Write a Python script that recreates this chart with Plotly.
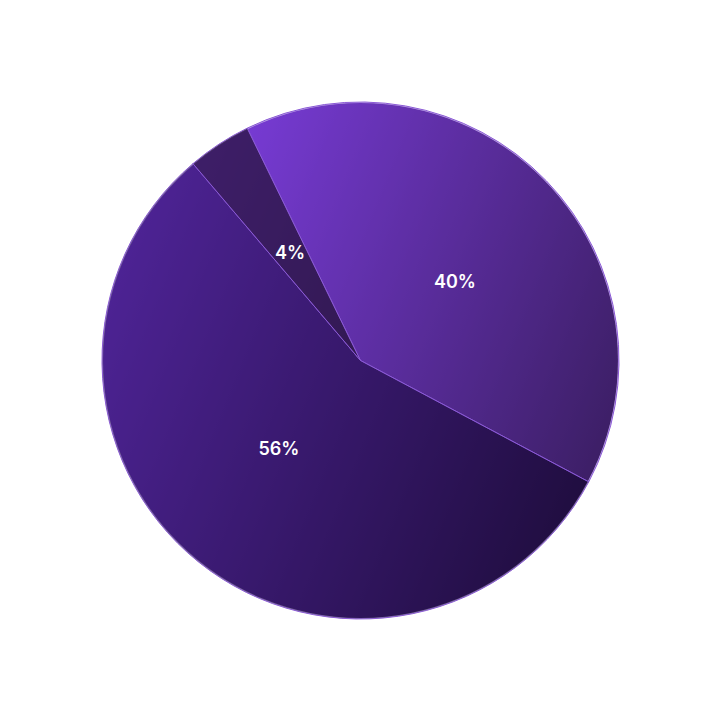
import base64

import plotly.graph_objects as go

labels = ["A", "B", "C"]
values = [40, 56, 4]
# slice tints laid over a diagonal purple gradient disc
colors = ["rgba(111,60,197,0.45)", "rgba(39,18,87,0.63)", "rgba(44,22,70,0.8)"]
edge_color = "#8b5ad6"

# gradient disc drawn under the semi-transparent pie
svg = (
    '<svg xmlns="http://www.w3.org/2000/svg" viewBox="0 0 100 100" '
    'preserveAspectRatio="none">'
    '<defs><linearGradient id="g" x1="0.0365" y1="0.3125" x2="0.9635" y2="0.6875">'
    '<stop offset="0" stop-color="rgb(140,65,250)"/>'
    '<stop offset="1" stop-color="rgb(21,8,26)"/>'
    '</linearGradient></defs>'
    '<circle cx="50" cy="50" r="49.8" fill="url(#g)"/></svg>'
)
svg_uri = "data:image/svg+xml;base64," + base64.b64encode(svg.encode()).decode()

pie_kw = dict(
    labels=labels, values=values, sort=False, direction="clockwise",
    textposition="inside", insidetextorientation="horizontal",
    textfont=dict(family="Inter", size=18, color="white", weight=600),
    showlegend=False,
)
clear = dict(colors=["rgba(0,0,0,0)"] * 3, line=dict(width=0))


def box(f):
    return dict(x=[0.5 - f / 2, 0.5 + f / 2], y=[0.5 - f / 2, 0.5 + f / 2])


fig = go.Figure()
fig.add_trace(go.Pie(
    marker=dict(colors=colors, line=dict(color=edge_color, width=1)),
    rotation=-26, textinfo="none", hoverinfo="label+percent",
    **pie_kw,
))
# transparent copies that only carry the percentage labels
fig.add_trace(go.Pie(
    marker=clear, rotation=-22, domain=box(0.93), hoverinfo="skip",
    texttemplate=["%{percent}", "%{percent}", ""], **pie_kw,
))
fig.add_trace(go.Pie(
    marker=clear, rotation=-26, domain=box(0.56), hoverinfo="skip",
    texttemplate=["", "", "%{percent}"], **pie_kw,
))

fig.update_layout(
    width=705, height=705,
    margin=dict(l=94, r=94, t=94, b=94),
    paper_bgcolor="white",
    plot_bgcolor="white",
    uniformtext=dict(minsize=18, mode="show"),
    images=[dict(
        source=svg_uri, xref="paper", yref="paper", x=0, y=1,
        sizex=1, sizey=1, xanchor="left", yanchor="top",
        sizing="stretch", layer="below",
    )],
)

fig.write_html("out.html")
